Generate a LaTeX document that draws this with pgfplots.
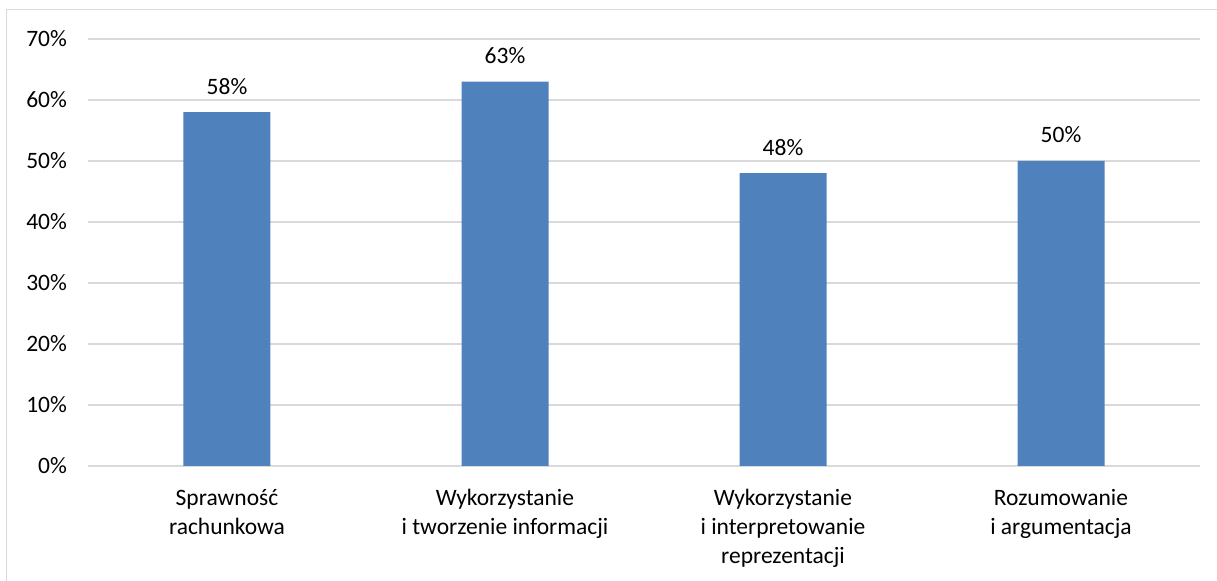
\documentclass[border=0pt]{standalone}
\usepackage{pgfplots}
\pgfplotsset{compat=1.18}
\usepackage{fontspec}
\setmainfont{Carlito}
\definecolor{barblue}{HTML}{4F81BD}
\definecolor{gridgray}{HTML}{D9D9D9}
\begin{document}
\begin{tikzpicture}
% fixed page size: 608.5pt x 290.5pt
\useasboundingbox (-44pt,-57.5pt) rectangle (564.5pt,233pt);
% outer chart frame (left and top edges)
\draw[gridgray, line width=0.9pt] (-40.75pt,-60pt) -- (-40.75pt,228.25pt) -- (570pt,228.25pt);
\begin{axis}[
  at={(0,0)}, anchor=south west,
  scale only axis,
  width=556pt, height=213.5pt,
  xmin=-0.5, xmax=3.5,
  ymin=0, ymax=70,
  ytick={0,10,...,70},
  yticklabels={0\%,10\%,20\%,30\%,40\%,50\%,60\%,70\%},
  xtick={0,1,2,3},
  xticklabels={{Sprawność\\rachunkowa},{Wykorzystanie\\i tworzenie informacji},{Wykorzystanie\\i interpretowanie\\reprezentacji},{Rozumowanie\\i argumentacja}},
  ymajorgrids,
  grid style={gridgray, line width=0.75pt},
  axis line style={draw=none},
  major tick length=0pt,
  tick label style={font=\fontsize{11.75}{14.5}\selectfont},
  yticklabel style={anchor=east, xshift=-7pt},
  xticklabel style={align=center, anchor=north, yshift=-8pt},
  ybar, bar width=43.5pt,
  /pgf/number format/assume math mode=true,
  nodes near coords={\pgfmathprintnumber{\pgfplotspointmeta}\%},
  nodes near coords style={font=\fontsize{11.75}{14.5}\selectfont, anchor=base, inner sep=0pt, yshift=9pt},
  clip=false,
]
\addplot[fill=barblue, draw=none] coordinates {(0,58) (1,63) (2,48) (3,50)};
\end{axis}
\end{tikzpicture}
\end{document}
